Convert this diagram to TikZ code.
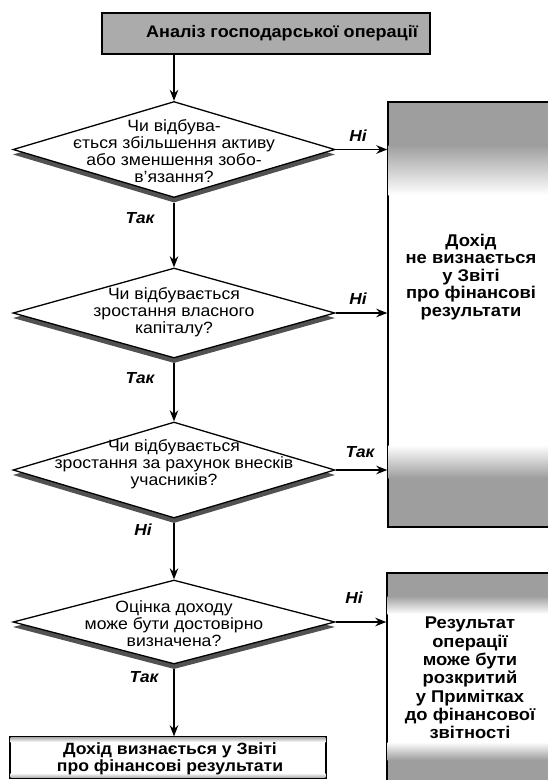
\documentclass[tikz,border=0pt]{standalone}
\usepackage{fontspec}
\setmainfont{Liberation Sans}[FakeStretch=1.08]
\usetikzlibrary{arrows.meta,shapes.geometric}
\begin{document}
\begin{tikzpicture}[x=1pt,y=-1pt,
  arr/.style={line width=1.7pt,-{Stealth[length=11pt,width=8.5pt]}},
  dia/.style={diamond,draw,line width=1.3pt,fill=white,minimum width=322pt,minimum height=#1,inner sep=0pt},
  shd/.style={diamond,draw=none,fill=black!68,minimum width=322pt,minimum height=#1,inner sep=0pt},
  box/.style={rectangle,draw,line width=1.4pt,inner sep=0pt},
  dtxt/.style={align=center,inner sep=0pt,font=\fontsize{16.3}{17}\selectfont},
  btxt/.style={align=center,inner sep=0pt,font=\bfseries\fontsize{17}{#1}\selectfont},
  lab/.style={inner sep=0pt,font=\bfseries\itshape\fontsize{16}{16}\selectfont}]
\path[use as bounding box] (0,0) rectangle (548,780);
\clip (0,0) rectangle (548,780);
% top box
\node[box,fill=black!33,minimum width=328pt,minimum height=41pt] (top) at (266,33.5) {};
\node[btxt=16,font=\bfseries\fontsize{16.7}{16}\selectfont] (toptxt) at (282,33.5) {Аналіз господарської операції};
% right box 1
\node[box,fill=white,minimum width=164pt,minimum height=425pt] (r1) at (470,314.5) {};
\fill[black!38] (388.7,102.7) rectangle (552,145);
\shade[top color=black!38,bottom color=white] (388.7,145) rectangle (552,195);
\shade[top color=white,bottom color=black!38] (388.7,445) rectangle (552,478);
\fill[black!38] (388.7,478) rectangle (552,526.3);
\node[btxt=17.5] (r1txt) at (471,277) {Дохід\\не визнається\\у Звіті\\про фінансові\\результати};
% right box 2
\node[box,fill=white,minimum width=165pt,minimum height=217pt] (r2) at (469.5,681.5) {};
\fill[black!38] (387.7,573.7) rectangle (552,596);
\shade[top color=black!38,bottom color=white] (387.7,596) rectangle (552,614);
\shade[top color=white,bottom color=black!38] (387.7,742) rectangle (552,760);
\fill[black!38] (387.7,760) rectangle (552,785);
\node[btxt=18.3] (r2txt) at (470,678) {Результат\\операції\\може бути\\розкритий\\у Примітках\\до фінансової\\звітності};
% bottom box
\node[box,fill=white,minimum width=316pt,minimum height=41pt] (bot) at (168,757.5) {};
\shade[top color=black!30,bottom color=white] (10.7,737.7) rectangle (325.3,742);
\shade[top color=white,bottom color=black!30] (10.7,773) rectangle (325.3,777.3);
\node[btxt=17,font=\bfseries\fontsize{16.3}{17}\selectfont] (bottxt) at (170,758.5) {Дохід визнається у Звіті\\про фінансові результати};
% diamonds
\node[shd=96pt] (s1) at (174,154.5) {};
\node[dia=96pt] (d1) at (174,149.5) {};
\node[dtxt] (t1) at (174,151) {Чи відбува-\\ється збільшення активу\\або зменшення зобо-\\в’язання?};
\node[shd=90pt] (s2) at (174,318) {};
\node[dia=90pt] (d2) at (174,313) {};
\node[dtxt] (t2) at (174,312) {Чи відбувається\\зростання власного\\капіталу?};
\node[shd=96pt] (s3) at (174,475) {};
\node[dia=96pt] (d3) at (174,470) {};
\node[dtxt] (t3) at (174,464) {Чи відбувається\\зростання за рахунок внесків\\учасників?};
\node[shd=84pt] (s4) at (174,627) {};
\node[dia=84pt] (d4) at (174,622) {};
\node[dtxt] (t4) at (174,624) {Оцінка доходу\\може бути достовірно\\визначена?};
% connectors
\draw[arr] (top.south -| d1.north) -- (d1.north);
\draw[arr] (s1.south) -- (d2.north);
\draw[arr] (s2.south) -- (d3.north);
\draw[arr] (s3.south) -- (d4.north);
\draw[arr] (s4.south) -- (s4.south |- bot.north);
\draw[arr] (d1.east) -- (d1.east -| r1.west);
\draw[arr] (d2.east) -- (d2.east -| r1.west);
\draw[arr] (d3.east) -- (d3.east -| r1.west);
\draw[arr] (d4.east) -- (d4.east -| r2.west);
% labels
\node[lab] (l1) at (358,136) {Ні};
\node[lab] (l2) at (140,218) {Так};
\node[lab] (l3) at (358,299) {Ні};
\node[lab] (l4) at (140,378) {Так};
\node[lab] (l5) at (360,452) {Так};
\node[lab] (l6) at (143,530) {Ні};
\node[lab] (l7) at (354,598) {Ні};
\node[lab] (l8) at (144,677) {Так};
\end{tikzpicture}
\end{document}
